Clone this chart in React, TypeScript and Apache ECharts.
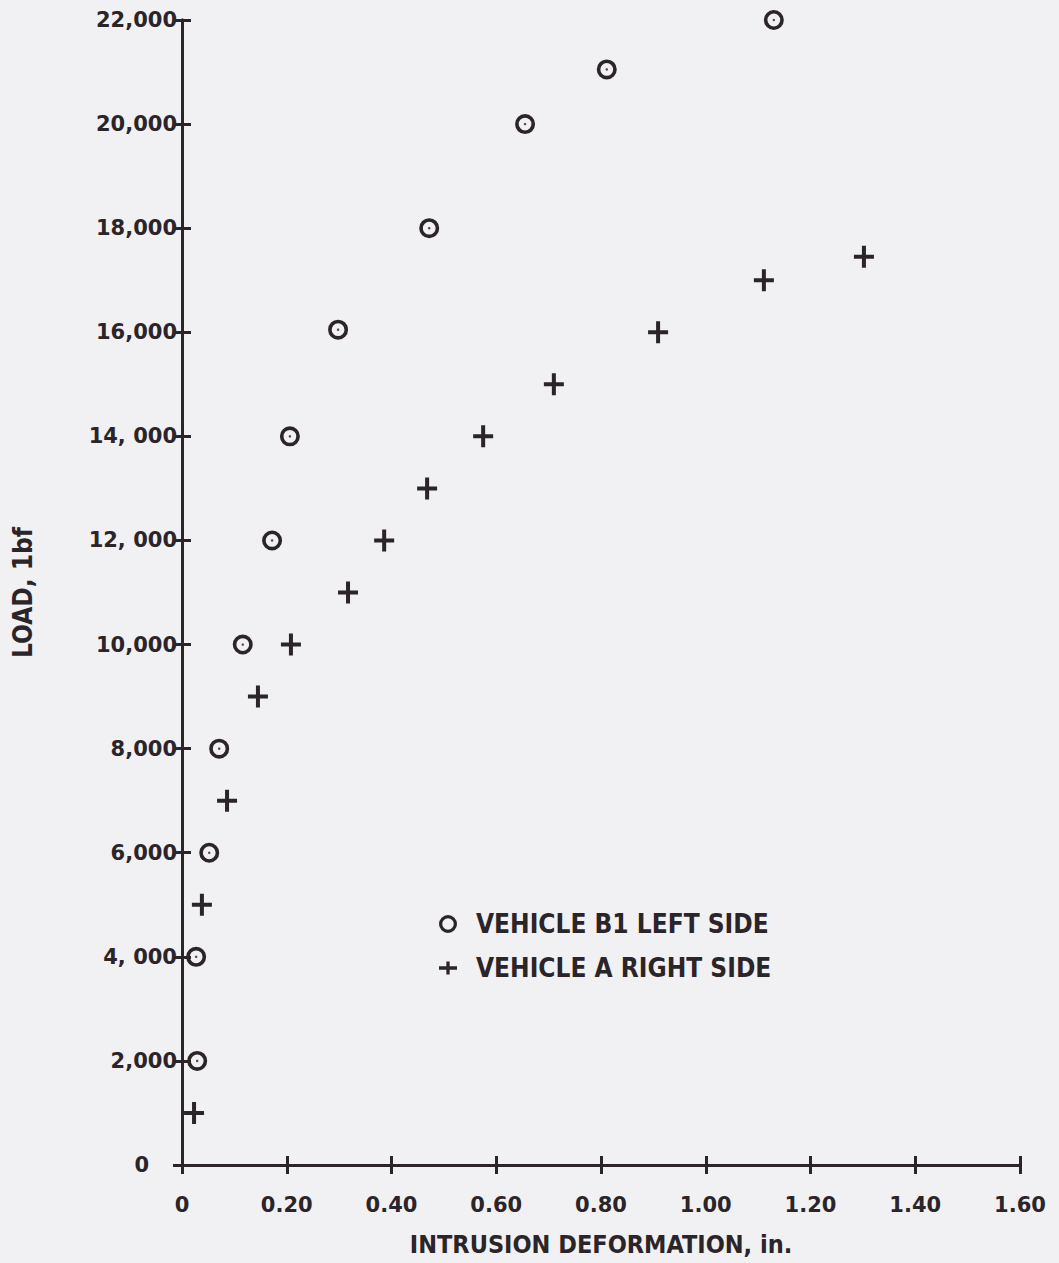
import React, { useEffect, useRef } from "react";
import * as echarts from "echarts";

const xTickLabels = ["0", "0.20", "0.40", "0.60", "0.80", "1.00", "1.20", "1.40", "1.60"];
const yTickLabels = ["0", "2,000", "4, 000", "6,000", "8,000", "10,000", "12, 000", "14, 000", "16,000", "18,000", "20,000", "22,000"];

const seriesB1Name = "VEHICLE B1 LEFT SIDE";
const b1X = [0.029, 0.027, 0.052, 0.071, 0.116, 0.172, 0.206, 0.298, 0.472, 0.655, 0.811, 1.13];
const b1Y = [2000, 4000, 6000, 8000, 10000, 12000, 14000, 16050, 18000, 20000, 21050, 22000];

const seriesAName = "VEHICLE A RIGHT SIDE";
const aX = [0.023, 0.038, 0.086, 0.145, 0.208, 0.317, 0.386, 0.468, 0.575, 0.71, 0.909, 1.111, 1.302];
const aY = [1000, 5000, 7000, 9000, 10000, 11000, 12000, 13000, 14000, 15000, 16000, 17000, 17450];

const INK = "#2b2428";
const BG = "#f1f0f2";
const CROSS =
  "path://M8,0 L12,0 L12,9 L20,9 L20,13 L12,13 L12,22 L8,22 L8,13 L0,13 L0,9 L8,9 Z";
const RING =
  "path://M10,0 A10,10 0 1,1 10,20 A10,10 0 1,1 10,0 Z M10,3.6 A6.4,6.4 0 1,0 10,16.4 A6.4,6.4 0 1,0 10,3.6 Z";
const LEGEND_CROSS =
  "path://M9,0 L13,0 L13,6 L22,6 L22,10 L13,10 L13,16 L9,16 L9,10 L0,10 L0,6 L9,6 Z";
const CONDENSED = "'Liberation Sans Narrow', 'DejaVu Sans Condensed', 'Roboto Condensed', sans-serif";
const TICKFONT = "'DejaVu Sans', sans-serif";

export default function App() {
  const ref = useRef<HTMLDivElement>(null);
  useEffect(() => {
    document.body.style.margin = "0";
    document.body.style.background = BG;
    if (!ref.current) return;
    const chart = echarts.init(ref.current, null, { renderer: "svg" });
    const b1 = b1X.map((x, i) => [x, b1Y[i]]);
    const a = aX.map((x, i) => [x, aY[i]]);
    const axisLine = { show: true, lineStyle: { color: INK, width: 3 } };
    const tick = { show: true, inside: true, length: 9, lineStyle: { color: INK, width: 3 } };
    chart.setOption({
      animation: false,
      backgroundColor: BG,
      grid: { left: 182, right: 39, top: 20, bottom: 98, containLabel: false },
      legend: {
        orient: "vertical",
        left: 434,
        top: 906,
        itemGap: 18,
        itemWidth: 18,
        itemHeight: 18,
        data: [
          { name: seriesB1Name, icon: RING },
          { name: seriesAName, icon: LEGEND_CROSS },
        ],
        textStyle: {
          fontFamily: CONDENSED,
          fontWeight: "bold",
          fontSize: 26,
          color: INK,
          padding: [0, 0, 0, 14],
        },
      },
      xAxis: [
        {
          type: "value",
          min: 0,
          max: 1.6,
          interval: 0.2,
          position: "bottom",
          axisLine,
          axisTick: tick,
          splitLine: { show: false },
          axisLabel: {
            margin: 29,
            color: INK,
            fontFamily: TICKFONT,
            fontWeight: "bold",
            fontSize: 21,
            formatter: (v: number) => xTickLabels[Math.round(v / 0.2)] ?? "",
          },
          name: "INTRUSION DEFORMATION, in.",
          nameLocation: "middle",
          nameGap: 67,
          nameMoveOverlap: false,
          nameTextStyle: { fontFamily: CONDENSED, fontWeight: "bold", fontSize: 25, color: INK },
        },
        {
          type: "value",
          min: 0,
          max: 1.6,
          interval: 0.2,
          position: "top",
          axisLine,
          axisTick: tick,
          splitLine: { show: false },
          axisLabel: { show: false },
        },
      ],
      yAxis: [
        {
          type: "value",
          min: 0,
          max: 22000,
          interval: 2000,
          position: "left",
          axisLine,
          axisTick: tick,
          splitLine: { show: false },
          axisLabel: {
            margin: 5,
            color: INK,
            fontFamily: TICKFONT,
            fontWeight: "bold",
            fontSize: 21,
            formatter: (v: number) => {
              const s = yTickLabels[Math.round(v / 2000)] ?? "";
              return v === 0 ? "{z|" + s + "}" : s;
            },
            rich: {
              z: { padding: [0, 28, 0, 0], fontSize: 21, fontWeight: "bold", color: INK, fontFamily: TICKFONT },
            },
          },
          name: "LOAD, 1bf",
          nameLocation: "middle",
          nameGap: 146,
          nameRotate: 90,
          nameTextStyle: { fontFamily: CONDENSED, fontWeight: "bold", fontSize: 26, color: INK },
        },
        {
          type: "value",
          min: 0,
          max: 22000,
          interval: 2000,
          position: "right",
          axisLine,
          axisTick: tick,
          splitLine: { show: false },
          axisLabel: { show: false },
        },
      ],
      series: [
        {
          name: seriesB1Name,
          type: "scatter",
          data: b1,
          clip: false,
          symbol: RING,
          symbolSize: 20,
          itemStyle: { color: INK, opacity: 1 },
          z: 3,
        },
        {
          name: "b1-centre",
          type: "scatter",
          data: b1,
          clip: false,
          symbol: "circle",
          symbolSize: 2.5,
          itemStyle: { color: INK },
          z: 4,
          silent: true,
        },
        {
          name: seriesAName,
          type: "scatter",
          data: a,
          clip: false,
          symbol: CROSS,
          symbolSize: [20, 22],
          itemStyle: { color: INK, opacity: 1 },
          z: 3,
        },
      ],
    });
    return () => chart.dispose();
  }, []);
  return <div ref={ref} style={{ width: 1059, height: 1263, background: BG }} />;
}
